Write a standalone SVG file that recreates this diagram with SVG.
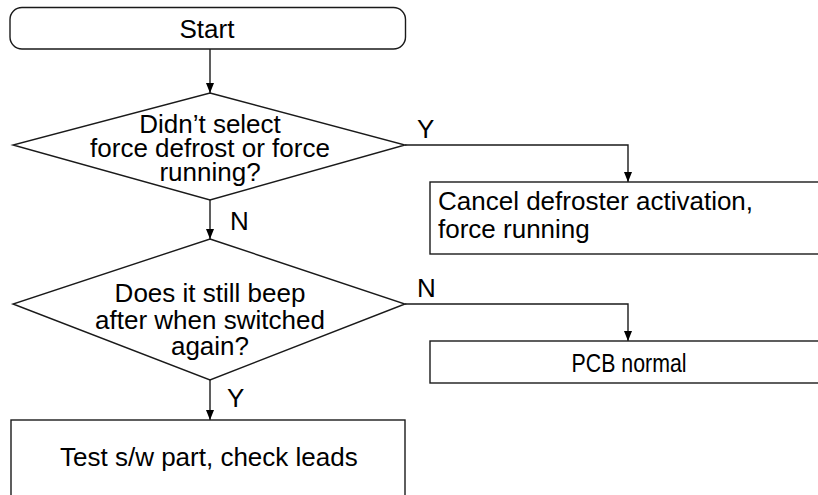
<svg xmlns="http://www.w3.org/2000/svg" width="818" height="495" viewBox="0 0 818 495">
<style>
.shape{fill:#fff;stroke:#1a1a1a;stroke-width:1.4}
.conn{fill:none;stroke:#1a1a1a;stroke-width:1.4}
text{font-family:"Liberation Sans",Arial,sans-serif;font-size:26px;fill:#000}
.c{text-anchor:middle}
</style>
<defs>
<marker id="arr" markerUnits="userSpaceOnUse" markerWidth="10" markerHeight="8" refX="10" refY="4" orient="auto">
<path d="M0,0 L10,4 L0,8 z" fill="#000"/>
</marker>
</defs>
<rect width="818" height="495" fill="#fff"/>
<g id="connectors">
<line class="conn" x1="210" y1="49" x2="210" y2="93" marker-end="url(#arr)"/>
<polyline class="conn" points="405,145 628,145 628,182" marker-end="url(#arr)"/>
<line class="conn" x1="210" y1="200" x2="210" y2="239" marker-end="url(#arr)"/>
<polyline class="conn" points="405,304 628,304 628,341" marker-end="url(#arr)"/>
<line class="conn" x1="210" y1="380" x2="210" y2="420" marker-end="url(#arr)"/>
<text x="417" y="138">Y</text>
<text x="230" y="230">N</text>
<text x="417" y="297">N</text>
<text x="227" y="407">Y</text>
</g>
<g id="start">
<rect class="shape" x="10" y="7.5" width="395.5" height="41.5" rx="12" ry="12"/>
<text class="c" x="207" y="38">Start</text>
</g>
<g id="decision1">
<polygon class="shape" points="210,93 405,145 210,200 13,145"/>
<text class="c" x="210" y="133">Didn’t select</text>
<text class="c" x="210" y="157">force defrost or force</text>
<text class="c" x="210" y="181">running?</text>
</g>
<g id="cancel">
<rect class="shape" x="430" y="182" width="400" height="72"/>
<text x="438" y="210">Cancel defroster activation,</text>
<text x="438" y="238">force running</text>
</g>
<g id="decision2">
<polygon class="shape" points="210,239 405,304 210,380 13,304"/>
<text class="c" x="210" y="302">Does it still beep</text>
<text class="c" x="210" y="329">after when switched</text>
<text class="c" x="210" y="355">again?</text>
</g>
<g id="pcb">
<rect class="shape" x="430" y="341" width="400" height="42"/>
<text class="c" x="629" y="372" textLength="115" lengthAdjust="spacingAndGlyphs">PCB normal</text>
</g>
<g id="test">
<rect class="shape" x="11" y="420" width="394" height="100"/>
<text x="60" y="466">Test s/w part, check leads</text>
</g>
</svg>
